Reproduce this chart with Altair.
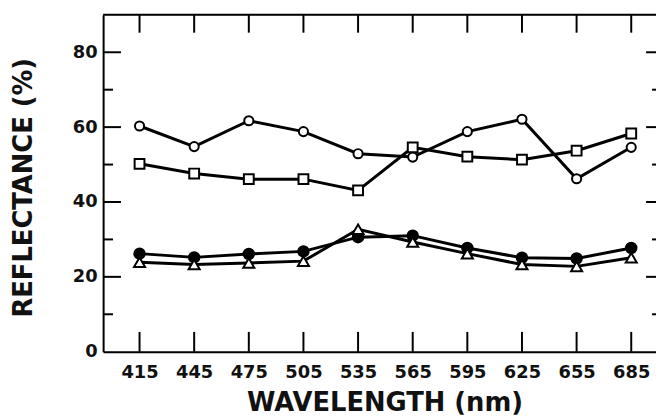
import altair as alt
import pandas as pd

# ---- data ----
wavelengths = [415, 445, 475, 505, 535, 565, 595, 625, 655, 685]
series_names = ["open circles", "open squares", "filled circles", "open triangles"]
open_circles = [60.3, 54.8, 61.7, 58.8, 52.9, 52.0, 58.8, 62.1, 46.2, 54.6]
open_squares = [50.2, 47.6, 46.1, 46.1, 43.1, 54.6, 52.1, 51.3, 53.7, 58.3]
filled_circles = [26.2, 25.2, 26.1, 26.8, 30.6, 31.0, 27.7, 25.1, 24.9, 27.7]
open_triangles = [23.9, 23.3, 23.7, 24.2, 32.7, 29.3, 26.2, 23.3, 22.8, 25.1]

y_label_values = [0, 20, 40, 60, 80]
y_major_ticks = [20, 40, 60, 80]
y_minor_ticks = [10, 30, 50, 70]
x_domain = [395, 698.6]
y_domain = [0, 90]

W, H = 558, 340
FONT = "DejaVu Sans"

rows = []
for name, vals in zip(series_names,
                      [open_circles, open_squares, filled_circles, open_triangles]):
    for w, v in zip(wavelengths, vals):
        rows.append({"series": name, "wavelength": w, "reflectance": v})
df = pd.DataFrame(rows)

xs = alt.Scale(domain=x_domain, nice=False, zero=False)
ys = alt.Scale(domain=y_domain, nice=False, zero=False)

x_axis = alt.Axis(values=wavelengths, ticks=False, grid=False, domain=True,
                  domainColor="black", domainWidth=2, labelFont=FONT,
                  labelFontSize=18, labelFontWeight="bold", labelColor="#111",
                  labelPadding=12, labelOverlap=False, labelFlush=False,
                  title="WAVELENGTH (nm)", titleFont=FONT, titleFontSize=26,
                  titleFontWeight="bold", titleColor="#111",
                  titleBaseline="alphabetic", titleY=59, titleX=284,
                  titleAlign="center")
y_axis = alt.Axis(values=y_label_values, ticks=False, grid=False, domain=True,
                  domainColor="black", domainWidth=2, labelFont=FONT,
                  labelFontSize=18, labelFontWeight="bold", labelColor="#111",
                  labelPadding=6, labelOverlap=False, labelFlush=False,
                  title="REFLECTANCE (%)", titleFont=FONT, titleFontSize=26,
                  titleFontWeight="bold", titleColor="#111", titleAngle=270,
                  titleBaseline="alphabetic", titleX=-72, titleY=174,
                  titleAlign="center")

base = alt.Chart(df)

lines = base.mark_line(color="black", strokeWidth=3).encode(
    x=alt.X("wavelength:Q", scale=xs, axis=x_axis),
    y=alt.Y("reflectance:Q", scale=ys, axis=y_axis),
    detail="series:N",
    order="wavelength:Q",
)

points = base.mark_point(filled=True, stroke="black", strokeWidth=2, opacity=1).encode(
    x=alt.X("wavelength:Q", scale=xs),
    y=alt.Y("reflectance:Q", scale=ys),
    shape=alt.Shape("series:N", legend=None,
                    scale=alt.Scale(domain=series_names,
                                    range=["circle", "square", "circle", "triangle-up"])),
    fill=alt.Fill("series:N", legend=None,
                  scale=alt.Scale(domain=series_names,
                                  range=["white", "white", "black", "white"])),
    size=alt.Size("series:N", legend=None,
                  scale=alt.Scale(domain=series_names, range=[85, 125, 90, 150])),
)

xt = pd.DataFrame({"wavelength": wavelengths})
bottom_ticks = alt.Chart(xt).mark_rule(color="black", strokeWidth=2).encode(
    x=alt.X("wavelength:Q", scale=xs),
    y=alt.value(H), y2=alt.value(H - 20))
top_ticks = alt.Chart(xt).mark_rule(color="black", strokeWidth=2).encode(
    x=alt.X("wavelength:Q", scale=xs),
    y=alt.value(0), y2=alt.value(18))

ymaj = pd.DataFrame({"reflectance": y_major_ticks})
ymin = pd.DataFrame({"reflectance": y_minor_ticks})
left_major = alt.Chart(ymaj).mark_rule(color="black", strokeWidth=2).encode(
    y=alt.Y("reflectance:Q", scale=ys), x=alt.value(0), x2=alt.value(18))
left_minor = alt.Chart(ymin).mark_rule(color="black", strokeWidth=2).encode(
    y=alt.Y("reflectance:Q", scale=ys), x=alt.value(0), x2=alt.value(10))
right_major = alt.Chart(ymaj).mark_rule(color="black", strokeWidth=2).encode(
    y=alt.Y("reflectance:Q", scale=ys), x=alt.value(W - 10), x2=alt.value(W))
right_minor = alt.Chart(ymin).mark_rule(color="black", strokeWidth=2).encode(
    y=alt.Y("reflectance:Q", scale=ys), x=alt.value(W - 4), x2=alt.value(W))

top_frame = alt.Chart(pd.DataFrame({"reflectance": [y_domain[1]]})).mark_rule(
    color="black", strokeWidth=2).encode(
    y=alt.Y("reflectance:Q", scale=ys), x=alt.value(0), x2=alt.value(W))

chart = alt.layer(
    lines, top_frame, bottom_ticks, top_ticks, left_major, left_minor,
    right_major, right_minor, points
).properties(
    width=W, height=H,
    autosize=alt.AutoSizeParams(type="none"),
    padding={"left": 96, "top": 5, "right": 0, "bottom": 64},
).configure_view(stroke=None).configure(background="white")

chart.save("out.html", embed_options={"renderer": "svg", "actions": False})
